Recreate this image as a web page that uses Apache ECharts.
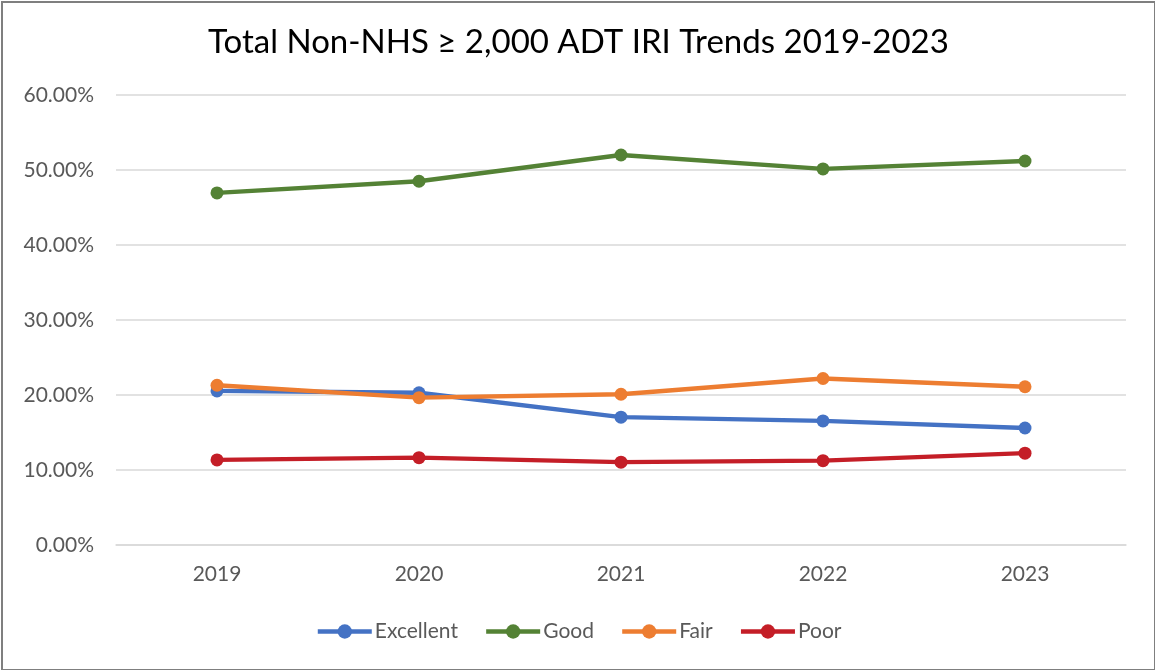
<!DOCTYPE html>
<html>
<head>
<meta charset="utf-8">
<script src="https://cdn.jsdelivr.net/npm/echarts@6/dist/echarts.min.js"></script>
<style>
  html, body { margin: 0; padding: 0; background: #fff; }
  #chart { position: absolute; left: 1px; top: 1px; width: 1151px; height: 666px; border: 2px solid #7f7f7f; box-sizing: content-box; }
</style>
</head>
<body>
<div id="chart"></div>
<script>
const years = ['2019', '2020', '2021', '2022', '2023'];
const excellent = [20.55, 20.3, 17.05, 16.55, 15.6];
const good = [46.95, 48.5, 52.0, 50.15, 51.2];
const fair = [21.3, 19.65, 20.1, 22.2, 21.1];
const poor = [11.35, 11.65, 11.05, 11.25, 12.25];
const yTicks = [0, 10, 20, 30, 40, 50, 60];

const font = 'Lato, "Open Sans", sans-serif';
const myChart = echarts.init(document.getElementById('chart'));

const mk = (name, data, color) => ({
    name: name,
    type: 'line',
    data: data,
    symbol: 'circle',
    symbolSize: 13,
    lineStyle: { width: 4.5, color: color },
    itemStyle: { color: color },
    emphasis: { disabled: true }
});

myChart.setOption({
    animation: false,
    title: {
        text: 'Total Non-NHS ≥ 2,000 ADT IRI Trends 2019-2023',
        left: 'center',
        top: 18,
        textStyle: { fontFamily: font, fontSize: 33, fontWeight: 'normal', color: '#000' }
    },
    grid: { left: 113, right: 28, top: 92, bottom: 124 },
    legend: {
        bottom: 22,
        left: 'center',
        itemWidth: 54,
        itemHeight: 18,
        itemGap: 26,
        lineStyle: { width: 4.5 },
        textStyle: { fontFamily: font, fontSize: 21, color: '#595959', padding: [0, 0, 0, -2] },
        data: ['Excellent', 'Good', 'Fair', 'Poor']
    },
    xAxis: {
        type: 'category',
        data: years,
        boundaryGap: true,
        axisLine: { lineStyle: { color: '#d9d9d9', width: 1.5 } },
        axisTick: { show: false },
        axisLabel: { fontFamily: font, fontSize: 21, color: '#595959', margin: 19 }
    },
    yAxis: {
        type: 'value',
        min: yTicks[0],
        max: yTicks[yTicks.length - 1],
        interval: 10,
        axisLine: { show: false },
        axisTick: { show: false },
        splitLine: { lineStyle: { color: '#d9d9d9', width: 1.5 } },
        axisLabel: {
            fontFamily: font, fontSize: 21, color: '#595959', margin: 22,
            formatter: v => v.toFixed(2) + '%'
        }
    },
    series: [
        mk('Excellent', excellent, '#4472c4'),
        mk('Good', good, '#548235'),
        mk('Fair', fair, '#ed7d31'),
        mk('Poor', poor, '#c41e27')
    ]
});
</script>
</body>
</html>
